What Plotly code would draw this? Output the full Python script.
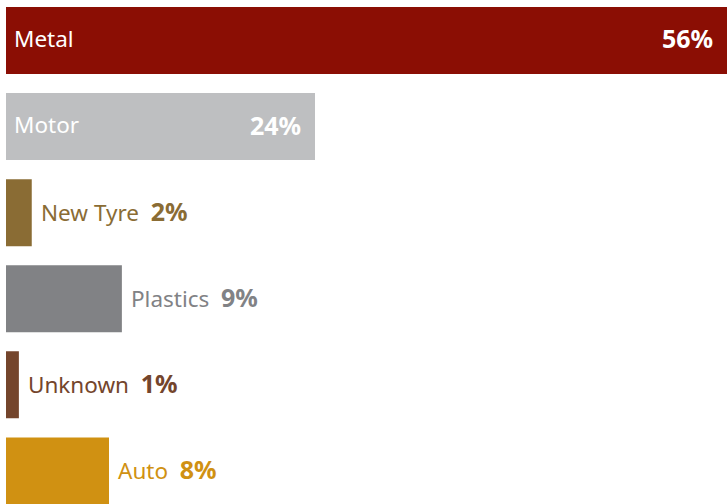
import plotly.graph_objects as go

categories = ["Metal", "Motor", "New Tyre", "Plastics", "Unknown", "Auto"]
values = [56, 24, 2, 9, 1, 8]
colors = ["#8b0e04", "#bebfc1", "#8a6c34", "#818285", "#74452c", "#d09112"]

FONT = "Noto Sans, Open Sans, sans-serif"
NAME_SIZE = 22.5
VAL_SIZE = 25
INSIDE_MIN = 20

fig = go.Figure(go.Bar(
    x=values, y=categories, orientation="h",
    marker=dict(color=colors, line=dict(width=0)),
    hoverinfo="skip",
))

annotations = []
for cat, val, col in zip(categories, values, colors):
    if val >= INSIDE_MIN:
        annotations.append(dict(
            x=0, y=cat, xref="x", yref="y", text=cat, showarrow=False,
            xanchor="left", yanchor="middle", xshift=6, yshift=2,
            font=dict(family=FONT, size=NAME_SIZE, color="#ffffff"),
        ))
        annotations.append(dict(
            x=val, y=cat, xref="x", yref="y", text=f"<b>{val}%</b>", showarrow=False,
            xanchor="right", yanchor="middle", xshift=-12, yshift=2,
            font=dict(family=FONT, size=VAL_SIZE, color="#ffffff"),
        ))
    else:
        annotations.append(dict(
            x=val, y=cat, xref="x", yref="y",
            text=f"{cat}\u00a0\u00a0<span style='font-size:{VAL_SIZE}px'><b>{val}%</b></span>",
            showarrow=False,
            xanchor="left", yanchor="middle", xshift=7, yshift=2,
            font=dict(family=FONT, size=NAME_SIZE, color=col),
        ))

fig.update_layout(
    width=727, height=504,
    margin=dict(l=6, r=0, t=0, b=0),
    paper_bgcolor="white", plot_bgcolor="white",
    bargap=0.222,
    showlegend=False,
    annotations=annotations,
    xaxis=dict(range=[0, 56], visible=False, fixedrange=True),
    yaxis=dict(categoryorder="array", categoryarray=categories,
               range=[5.384, -0.470], visible=False, fixedrange=True),
)

fig.write_html("out.html", config={"displayModeBar": False},
               post_script="document.body.style.margin='0';")
